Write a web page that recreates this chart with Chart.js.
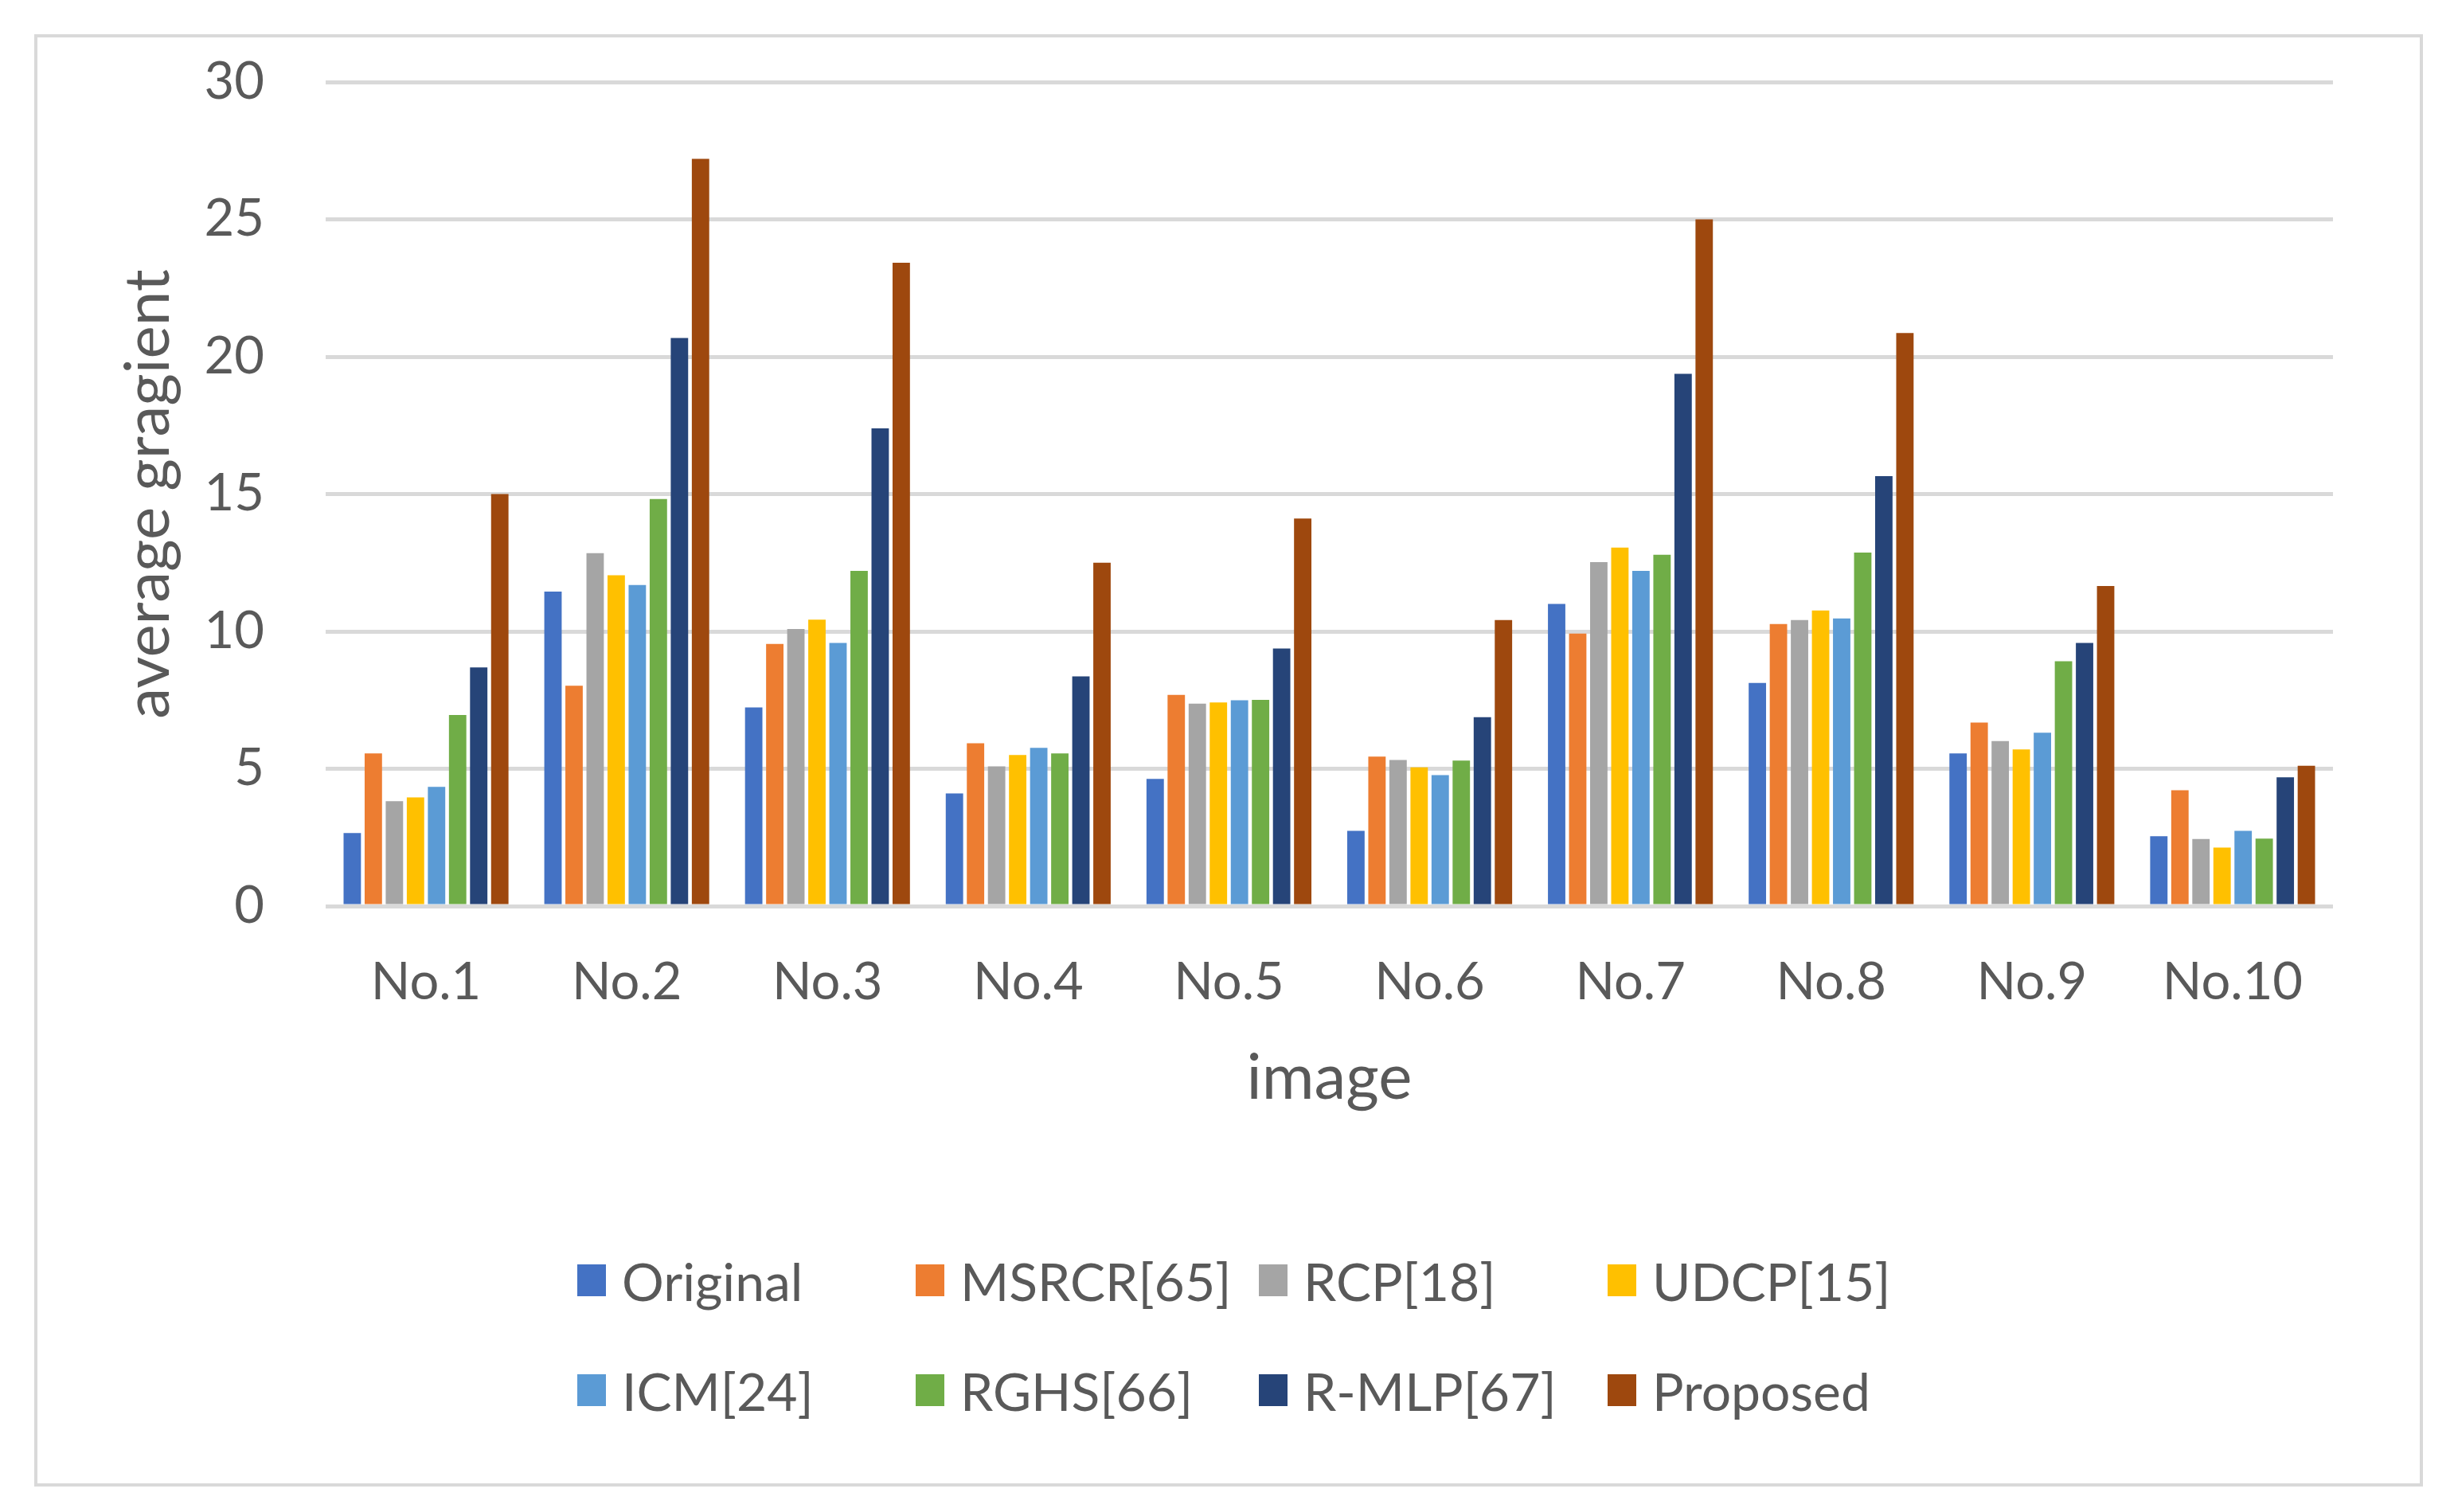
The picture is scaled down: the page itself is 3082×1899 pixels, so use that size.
<!DOCTYPE html>
<html>
<head>
<meta charset="utf-8">
<script src="https://cdn.jsdelivr.net/npm/chart.js@4.4.1/dist/chart.umd.min.js"></script>
<style>
  body { margin: 0; background: #fff; }
  #wrap { position: relative; width: 3082px; height: 1899px; }
  #frame { position: absolute; left: 43px; top: 43px; width: 2992px; height: 1816px; border: 4px solid #d9d9d9; }
  #canvasBox { position: absolute; left: 0; top: 0; width: 3082px; height: 1899px; }
  .item { position: absolute; display: flex; align-items: center; height: 84px;
          font-family: Lato, sans-serif; font-size: 66px; color: #595959; white-space: nowrap; }
  .box { width: 36px; height: 40px; margin-right: 20px; }
</style>
</head>
<body>
<div id="wrap">
  <div id="frame"></div>
  <div id="canvasBox"><canvas id="gradChart"></canvas></div>
  <div id="legend"></div>
</div>
<script>
var images = ['No.1', 'No.2', 'No.3', 'No.4', 'No.5', 'No.6', 'No.7', 'No.8', 'No.9', 'No.10'];

var original = [2.66, 11.45, 7.23, 4.10, 4.63, 2.74, 11.00, 8.12, 5.56, 2.54];
var msrcr    = [5.56, 8.02, 9.54, 5.93, 7.69, 5.44, 9.92, 10.27, 6.68, 4.22];
var rcp      = [3.82, 12.85, 10.09, 5.09, 7.37, 5.32, 12.52, 10.41, 6.01, 2.44];
var udcp     = [3.96, 12.04, 10.43, 5.50, 7.41, 5.05, 13.05, 10.76, 5.70, 2.13];
var icm      = [4.34, 11.69, 9.58, 5.76, 7.49, 4.77, 12.20, 10.47, 6.31, 2.74];
var rghs     = [6.96, 14.82, 12.20, 5.56, 7.51, 5.30, 12.79, 12.87, 8.91, 2.46];
var rmlp     = [8.69, 20.68, 17.39, 8.36, 9.38, 6.88, 19.38, 15.65, 9.58, 4.69];
var proposed = [15.00, 27.20, 23.42, 12.50, 14.11, 10.41, 25.00, 20.86, 11.65, 5.11];

var seriesNames = ['Original', 'MSRCR[65]', 'RCP[18]', 'UDCP[15]', 'ICM[24]', 'RGHS[66]', 'R-MLP[67]', 'Proposed'];
var seriesValues = [original, msrcr, rcp, udcp, icm, rghs, rmlp, proposed];
var seriesColors = ['#4472C4', '#ED7D31', '#A5A5A5', '#FFC000', '#5B9BD5', '#70AD47', '#264478', '#9E480E'];

var yTicks = [0, 5, 10, 15, 20, 25, 30];

var textColor = '#595959';
var gridColor = '#d9d9d9';

var datasets = seriesNames.map(function(name, i) {
    return {
        label: name,
        data: seriesValues[i],
        backgroundColor: seriesColors[i],
        categoryPercentage: 0.84,
        barPercentage: 0.825
    };
});

var ctx = document.getElementById('gradChart').getContext('2d');
var chart = new Chart(ctx, {
    type: 'bar',
    data: { labels: images, datasets: datasets },
    options: {
        responsive: true,
        maintainAspectRatio: false,
        animation: false,
        devicePixelRatio: 1,
        layout: { padding: { left: 80, top: 103, right: 152, bottom: 461 } },
        plugins: {
            legend: { display: false },
            tooltip: { enabled: false }
        },
        scales: {
            x: {
                grid: { display: false },
                border: { display: false },
                ticks: { color: textColor, font: { family: 'Lato', size: 65 }, padding: 49, maxRotation: 0 },
                title: { display: true, text: 'image', color: textColor, font: { family: 'Lato', size: 80 },
                         padding: { top: 0, bottom: 36 } },
                afterFit: function(scale) {
                    scale.height = 300;
                    scale.paddingLeft = 0;
                    scale.paddingRight = 0;
                }
            },
            y: {
                min: 0,
                max: 30,
                afterBuildTicks: function(scale) {
                    scale.ticks = yTicks.map(function(v) { return { value: v }; });
                },
                grid: { color: gridColor, lineWidth: 5, drawTicks: false },
                border: { display: false },
                ticks: { color: textColor, font: { family: 'Lato', size: 65 }, padding: 77 },
                title: { display: true, text: 'average gragient', color: textColor, font: { family: 'Lato', size: 78 },
                         padding: { top: 60, bottom: 0 } },
                afterFit: function(scale) {
                    scale.width = 329;
                    // keep the tick padding from pushing the plot area down
                    scale.paddingTop = 0;
                    scale.paddingBottom = 0;
                }
            }
        }
    }
});

// legend laid out in fixed columns like the original
var legendCols = [725, 1150, 1581, 2019];
var legendRows = [1608, 1746];
var legendEl = document.getElementById('legend');
chart.data.datasets.forEach(function(ds, i) {
    var item = document.createElement('div');
    item.className = 'item';
    item.style.left = legendCols[i % 4] + 'px';
    item.style.top = (legendRows[Math.floor(i / 4)] - 42) + 'px';
    var box = document.createElement('span');
    box.className = 'box';
    box.style.background = ds.backgroundColor;
    var txt = document.createElement('span');
    txt.textContent = ds.label;
    item.appendChild(box);
    item.appendChild(txt);
    legendEl.appendChild(item);
});
</script>
</body>
</html>
